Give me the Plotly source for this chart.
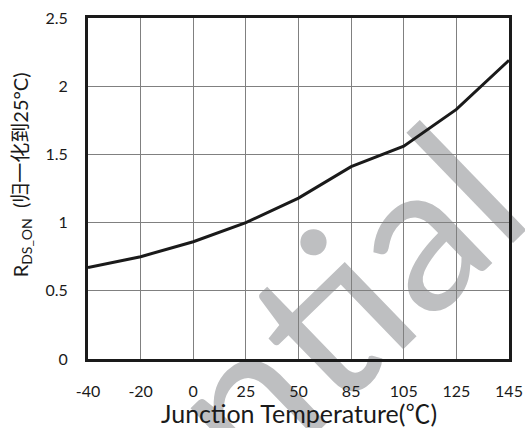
import plotly.graph_objects as go

temps = ["-40", "-20", "0", "25", "50", "85", "105", "125", "145"]
rdson = [0.67, 0.75, 0.86, 1.0, 1.18, 1.41, 1.56, 1.83, 2.19]
y_ticks = [0, 0.5, 1, 1.5, 2, 2.5]
y_ticktext = ["0", "0.5", "1", "1.5", "2", "2.5"]
x_title = "Junction Temperature(℃)"
y_title = "R<sub>DS_ON</sub>  (归一化到25°C)"
watermark = "Confidential"

FONT = "Lato, 'Noto Sans CJK SC', sans-serif"
xi = list(range(len(temps)))

fig = go.Figure()
fig.add_trace(go.Scatter(x=xi, y=rdson, mode="lines",
                         line=dict(color="#1a1a1a", width=3), showlegend=False))

W, H = 525, 428
L, R, T, B = 88, 16, 18, 69
pw, ph = W - L - R, H - T - B

def px2paper(px, py):
    return (px - L) / pw, (H - B - py) / ph

x0, y0 = px2paper(137, 668)
x1, y1 = px2paper(568, 251)

fig.add_shape(type="line", xref="paper", yref="paper", x0=x0, y0=y0, x1=x1, y1=y1,
              line=dict(width=0, color="rgba(0,0,0,0)"), layer="below",
              label=dict(text=watermark, textposition="end",
                         font=dict(family="Lato, sans-serif", size=208,
                                   color="rgb(190,191,193)")))

fig.add_annotation(text=x_title, xref="paper", yref="paper", x=0.5, y=-0.158,
                   xanchor="center", yanchor="middle", showarrow=False,
                   font=dict(family=FONT, size=25, color="#1a1a1a"))
fig.add_annotation(text=y_title, xref="paper", yref="paper", x=-0.158, y=0.54,
                   xanchor="center", yanchor="middle", showarrow=False, textangle=-90,
                   font=dict(family=FONT, size=20, color="#1a1a1a"))

fig.update_layout(
    width=W, height=H, margin=dict(l=L, r=R, t=T, b=B, autoexpand=False),
    paper_bgcolor="white", plot_bgcolor="white",
    font=dict(family=FONT, size=16, color="#1a1a1a"),
)
fig.update_xaxes(range=[0, len(temps) - 1], tickvals=xi, ticktext=temps,
                 showgrid=True, gridcolor="#808080", gridwidth=1,
                 showline=True, mirror=True, linecolor="#1a1a1a", linewidth=3,
                 zeroline=False, ticks="", ticklabelstandoff=16, automargin=False)
fig.update_yaxes(range=[0, 2.5], tickvals=y_ticks, ticktext=y_ticktext,
                 showgrid=True, gridcolor="#808080", gridwidth=1,
                 showline=True, mirror=True, linecolor="#1a1a1a", linewidth=3,
                 zeroline=False, ticks="", ticklabelstandoff=14, automargin=False)

fig.write_html("out.html", config={"displayModeBar": False},
               post_script="document.body.style.margin='0px';document.body.style.overflow='hidden';")
